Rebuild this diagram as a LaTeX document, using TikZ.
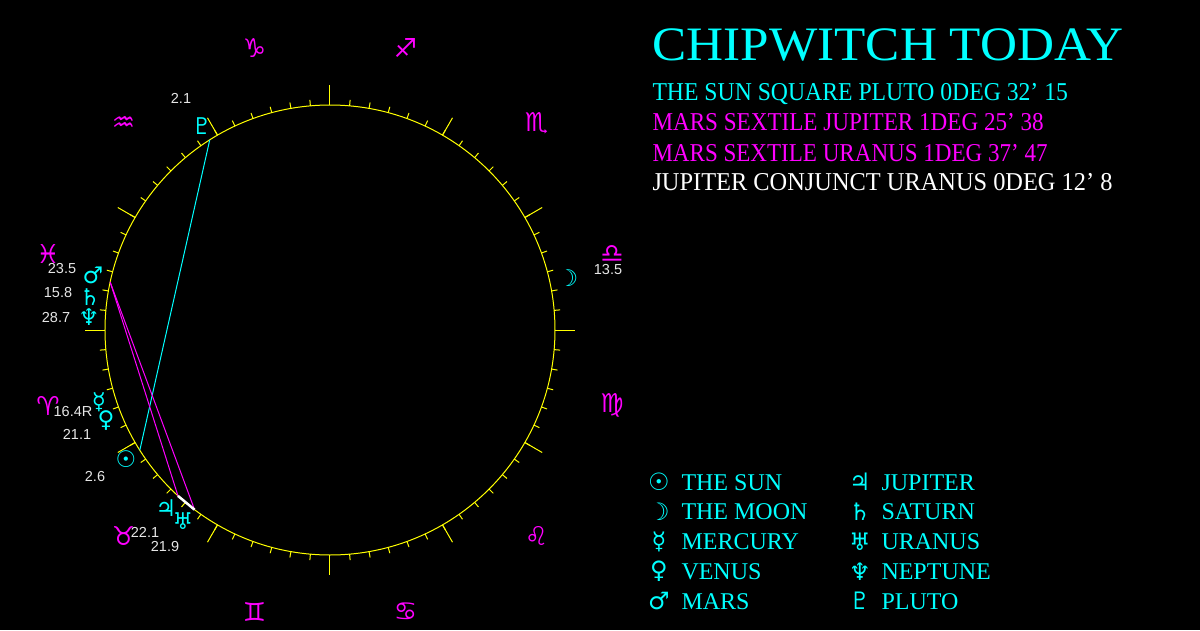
\documentclass[tikz,border=0pt]{standalone}
\usepackage{fontspec}
\setmainfont{Liberation Serif}
\newfontfamily\glyphfont{DejaVu Sans}
\newfontfamily\numfont{Liberation Sans}
\definecolor{numgrey}{HTML}{E6E6E6}
\definecolor{skycyan}{RGB}{0,255,255}
\definecolor{signpink}{RGB}{255,0,255}
\definecolor{wheelyellow}{RGB}{255,255,0}
\tikzset{
	sign/.style={text=signpink, inner sep=0, font=\glyphfont\fontsize{26}{26}\selectfont},
	planet/.style={text=skycyan, inner sep=0, font=\glyphfont\fontsize{23}{23}\selectfont},
	degree/.style={text=numgrey, inner sep=0, font=\numfont\fontsize{14.5}{14.5}\selectfont},
	aspectline/.style={anchor=base west, inner sep=0, font=\fontsize{25.7}{25.7}\selectfont},
	legendglyph/.style={text=skycyan, inner sep=0, font=\glyphfont\fontsize{24}{24}\selectfont},
	legendname/.style={text=skycyan, anchor=base west, inner sep=0, font=\fontsize{24}{24}\selectfont}
}
\begin{document}
\begin{tikzpicture}[x=1pt,y=1pt,line width=1pt]
		\fill[black] (-330,-300) rectangle (870,330);
		\useasboundingbox (-330,-300) rectangle (870,330);

		% wheel and ticks
		\draw[wheelyellow] (0,0) circle (225);
		\foreach \a in {5,10,...,355}
			\draw[wheelyellow] (\a:225) -- (\a:231);
		\foreach \a in {0,30,...,330}
			\draw[wheelyellow] (\a:225) -- (\a:245);

		% signs
		\foreach \s [count=\i from 0] in {♈,♉,♊,♋,♌,♍,♎,♏,♐,♑,♒,♓}
			\node[sign] (sign\i) at (195+30*\i:292) {\s};

		% points on the wheel
		\coordinate (sun) at (212.3:225);
		\coordinate (pluto) at (122.3:225);
		\coordinate (mars) at (167.7:225);
		\coordinate (jupiter) at (227.5:225);
		\coordinate (uranus) at (233:225);

		% aspects
		\draw[skycyan] (sun) -- (pluto);
		\draw[signpink] (mars) -- (jupiter);
		\draw[signpink] (mars) -- (uranus);
		\draw[white, line width=2.5pt] (jupiter) -- (uranus);

		% planets
		\node[planet] (plutoglyph) at (-128,204) {♇};
		\node[degree] (plutodeg) at (-149,232) {2.1};
		\node[planet] (marsglyph) at (-237,55) {♂};
		\node[degree] (marsdeg) at (-268,61) {23.5};
		\node[planet] (saturnglyph) at (-240,33) {♄};
		\node[degree] (saturndeg) at (-272,37) {15.8};
		\node[planet] (neptuneglyph) at (-241,13) {♆};
		\node[degree] (neptunedeg) at (-274,12) {28.7};
		\node[planet] (mercuryglyph) at (-231,-72) {☿};
		\node[degree] (mercurydeg) at (-257,-82) {16.4R};
		\node[planet] (venusglyph) at (-224,-91) {♀};
		\node[degree] (venusdeg) at (-253,-104) {21.1};
		\node[planet] (sunglyph) at (-204,-129) {☉};
		\node[degree] (sundeg) at (-235,-147) {2.6};
		\node[planet] (jupiterglyph) at (-164,-178) {♃};
		\node[degree] (jupiterdeg) at (-185,-202) {22.1};
		\node[planet] (uranusglyph) at (-147,-191) {♅};
		\node[degree] (uranusdeg) at (-165,-217) {21.9};
		\node[planet] (moonglyph) at (238,52) {☽};
		\node[degree] (moondeg) at (278,60) {13.5};

		% title and aspect list
		\node[aspectline, text=skycyan, font=\fontsize{48}{48}\selectfont] (title) at (322,270) {\scalebox{1.067}[1]{CHIPWITCH TODAY}};
		\node[aspectline, text=skycyan] (aspect1) at (322,230) {\scalebox{0.922}[1]{THE SUN SQUARE PLUTO 0DEG 32' 15}};
		\node[aspectline, text=signpink] (aspect2) at (322,199.3) {\scalebox{0.90}[1]{MARS SEXTILE JUPITER 1DEG 25' 38}};
		\node[aspectline, text=signpink] (aspect3) at (322,168.3) {\scalebox{0.897}[1]{MARS SEXTILE URANUS 1DEG 37' 47}};
		\node[aspectline, text=white] (aspect4) at (322,140) {\scalebox{0.949}[1]{JUPITER CONJUNCT URANUS 0DEG 12' 8}};

		% legend
		\foreach \g/\n [count=\i from 0] in {☉/THE SUN,☽/THE MOON,☿/MERCURY,♀/VENUS,♂/MARS}{
			\node[legendglyph] (lglyph\i) at (329,-152-29.75*\i) {\g};
			\node[legendname] (lname\i) at (351,-160-29.75*\i) {\n};
		}
		\foreach \g/\n [count=\i from 0] in {♃/JUPITER,♄/SATURN,♅/URANUS,♆/NEPTUNE,♇/PLUTO}{
			\node[legendglyph] (rglyph\i) at (530,-152-29.75*\i) {\g};
			\node[legendname] (rname\i) at (551,-160-29.75*\i) {\n};
		}
	\end{tikzpicture}
\end{document}
